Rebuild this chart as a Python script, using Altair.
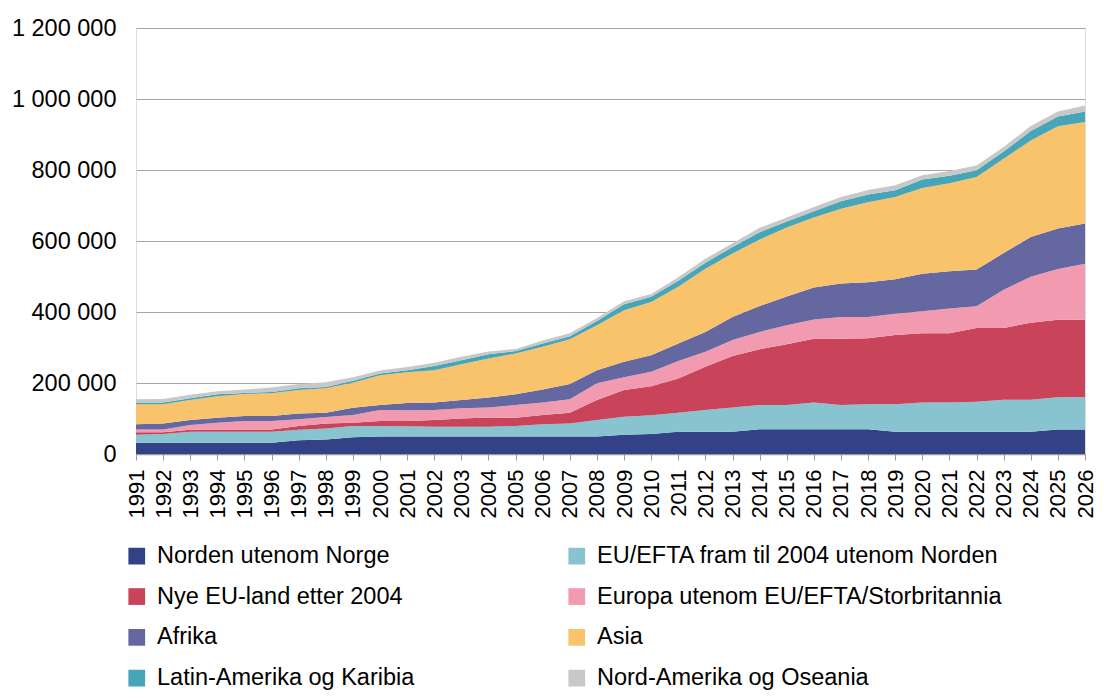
import altair as alt
import pandas as pd

years = list(range(1991, 2027))

series_names = [
    "Norden utenom Norge",
    "EU/EFTA fram til 2004 utenom Norden",
    "Nye EU-land etter 2004",
    "Europa utenom EU/EFTA/Storbritannia",
    "Afrika",
    "Asia",
    "Latin-Amerika og Karibia",
    "Nord-Amerika og Oseania",
]
series_colors = ["#334186", "#88c4cf", "#c9435b", "#f29bb0",
                 "#6467a0", "#f8c36b", "#47a5b8", "#c8c8c8"]

# values in thousands of persons
norden = [32, 32, 32, 32, 32, 32, 39, 41, 47, 49, 49, 49, 49, 49, 49, 49, 49, 49,
          54, 56, 63, 63, 63, 70, 70, 70, 70, 70, 63, 63, 63, 63, 63, 63, 69, 69]
eu_efta = [22, 24, 31, 31, 31, 31, 29, 31, 32, 30, 29, 28, 28, 28, 30, 35, 37, 47,
           51, 53, 53, 61, 68, 68, 68, 75, 68, 70, 77, 82, 82, 84, 90, 90, 91, 91]
nye_eu = [7, 5, 5, 6, 6, 6, 11, 14, 9, 14, 15, 19, 23, 26, 23, 26, 30, 56,
          75, 82, 97, 122, 145, 157, 171, 180, 187, 186, 195, 195, 195, 208, 202, 217, 218, 218]
europa = [8, 8, 14, 19, 24, 24, 19, 18, 22, 31, 30, 28, 29, 28, 36, 35, 38, 47,
          36, 41, 49, 42, 45, 49, 54, 54, 61, 60, 60, 62, 70, 61, 108, 129, 143, 158]
afrika = [15, 17, 14, 14, 14, 14, 16, 12, 20, 14, 21, 21, 23, 28, 30, 37, 43, 37,
          44, 46, 49, 56, 65, 73, 81, 90, 94, 98, 97, 106, 105, 104, 103, 112, 114, 113]
asia = [56, 54, 56, 61, 62, 64, 66, 69, 71, 84, 86, 91, 101, 110, 115, 120, 126, 127,
        145, 150, 160, 178, 179, 187, 194, 197, 211, 225, 232, 241, 248, 260, 266, 272, 288, 286]
latin = [5, 5, 5, 5, 3, 4, 5, 4, 5, 5, 6, 12, 11, 12, 7, 9, 9, 12,
         17, 15, 17, 17, 18, 21, 17, 18, 21, 22, 19, 24, 21, 19, 20, 27, 28, 30]
nord_am = [9, 10, 10, 9, 10, 12, 12, 13, 10, 8, 9, 9, 10, 8, 6, 9, 8, 8,
           8, 8, 10, 11, 11, 12, 11, 12, 12, 13, 14, 12, 13, 14, 13, 14, 14, 17]

y_ticks = [0, 200000, 400000, 600000, 800000, 1000000, 1200000]

all_series = [norden, eu_efta, nye_eu, europa, afrika, asia, latin, nord_am]
rows = []
for i, (name, vals) in enumerate(zip(series_names, all_series)):
    for yr, v in zip(years, vals):
        rows.append({"year": yr, "region": name, "idx": i, "value": v * 1000})
df = pd.DataFrame(rows)

# legend is filled column by column: left column first, then right column
legend_order = [0, 2, 4, 6, 1, 3, 5, 7]
legend_names = [series_names[k] for k in legend_order]
legend_colors = [series_colors[k] for k in legend_order]

FONT = "Liberation Sans"

chart = alt.Chart(df).mark_area(interpolate="linear").encode(
    x=alt.X(
        "year:Q",
        scale=alt.Scale(domain=[1991, 2026], nice=False, zero=False),
        axis=alt.Axis(
            values=years, format="d", labelAngle=-90, title=None, grid=False,
            ticks=True, tickSize=6, tickColor="#9a9a9a", tickWidth=1,
            domainColor="#9a9a9a", domainWidth=1.5,
            labelFontSize=22, labelPadding=9, labelColor="#000000",
            labelFont=FONT, labelOverlap=False,
        ),
    ),
    y=alt.Y(
        "value:Q",
        stack="zero",
        scale=alt.Scale(domain=[0, 1200000], nice=False),
        axis=alt.Axis(
            values=y_ticks, title=None, domain=False, ticks=False,
            grid=True, gridColor="#a6a6a6", gridWidth=1,
            labelExpr="replace(replace(format(datum.value, ','), ',', ' '), ',', ' ')",
            labelFontSize=23.5, labelPadding=20, labelColor="#000000",
            labelFont=FONT,
        ),
    ),
    color=alt.Color(
        "region:N",
        sort=legend_names,
        scale=alt.Scale(domain=legend_names, range=legend_colors),
        legend=alt.Legend(
            title=None, orient="none", legendX=-11, legendY=516,
            columns=2, columnPadding=150, rowPadding=15.8,
            symbolType="square", symbolSize=280, symbolStrokeWidth=0,
            symbolOpacity=1,
            labelFontSize=23.5, labelFont=FONT, labelColor="#000000",
            labelOffset=8.5, labelLimit=0, padding=0,
        ),
    ),
    order=alt.Order("idx:Q", sort="ascending"),
).properties(
    width=949,
    height=426,
    autosize=alt.AutoSizeParams(type="none"),
    padding={"left": 128, "top": 20, "right": 11, "bottom": 236},
).configure_view(stroke=None).configure(font=FONT)

chart.save("out.html", embed_options={"renderer": "svg", "actions": False})
